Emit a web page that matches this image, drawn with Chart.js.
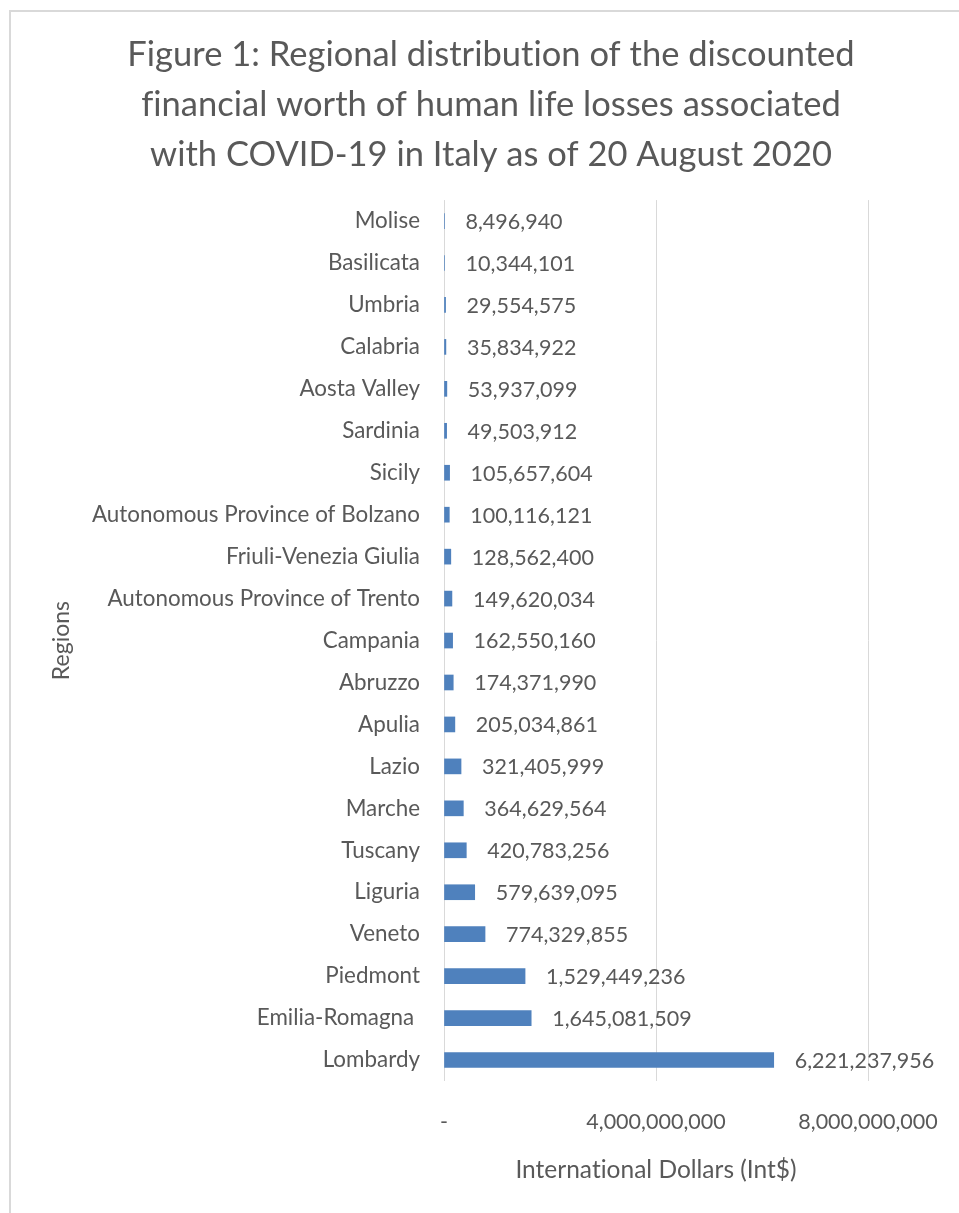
<!DOCTYPE html>
<html>
<head>
<meta charset="utf-8">
<script src="https://cdn.jsdelivr.net/npm/chart.js@4"></script>
<style>
  html, body { margin: 0; padding: 0; background: #ffffff; overflow: hidden; width: 959px; height: 1213px; }
  #frame { position: absolute; left: 9px; top: 10px; width: 2000px; height: 2000px; border-left: 2px solid #d9d9d9; border-top: 2px solid #d9d9d9; }
  #c { position: absolute; left: 0; top: 0; }
</style>
</head>
<body>
<div id="frame"></div>
<canvas id="c" width="959" height="1213"></canvas>
<script>
const titleLines = [
  'Figure 1: Regional distribution of the discounted',
  'financial worth of human life losses associated',
  'with COVID-19 in Italy as of 20 August 2020'
];
const regions = [
  'Molise', 'Basilicata', 'Umbria', 'Calabria', 'Aosta Valley', 'Sardinia', 'Sicily',
  'Autonomous Province of Bolzano', 'Friuli-Venezia Giulia', 'Autonomous Province of Trento',
  'Campania', 'Abruzzo', 'Apulia', 'Lazio', 'Marche', 'Tuscany', 'Liguria', 'Veneto',
  'Piedmont', 'Emilia-Romagna ', 'Lombardy'
];
const worth = [
  8496940, 10344101, 29554575, 35834922, 53937099, 49503912, 105657604,
  100116121, 128562400, 149620034, 162550160, 174371990, 205034861, 321405999,
  364629564, 420783256, 579639095, 774329855, 1529449236, 1645081509, 6221237956
];
const xTickValues = [0, 4000000000, 8000000000];
const xAxisTitle = 'International Dollars (Int$)';
const yAxisTitle = 'Regions';

const FONT = 'Lato, "Open Sans", sans-serif';
const TEXT = '#595959';
const fmt = v => v.toLocaleString('en-US');

const noLigatures = {
  id: 'noLigatures',
  beforeDraw(chart) {
    const ctx = chart.ctx;
    try { ctx.textRendering = 'optimizeSpeed'; } catch (e) {}
    try { ctx.letterSpacing = '0.01px'; } catch (e) {}
  }
};

// shift the chart title block so it is centred like the reference
const titleShift = {
  id: 'titleShift',
  afterLayout(chart) {
    const t = chart.titleBlock;
    if (t) { t.left += 74; }
  }
};

const valueLabels = {
  id: 'valueLabels',
  afterDatasetsDraw(chart) {
    const ctx = chart.ctx;
    const meta = chart.getDatasetMeta(0);
    ctx.save();
    ctx.font = '21.5px ' + FONT;
    ctx.fillStyle = TEXT;
    ctx.textAlign = 'left';
    ctx.textBaseline = 'middle';
    meta.data.forEach((bar, i) => {
      ctx.fillText(fmt(chart.data.datasets[0].data[i]), bar.x + 21, bar.y + 1);
    });
    ctx.restore();
  }
};

new Chart(document.getElementById('c'), {
  type: 'bar',
  data: {
    labels: regions,
    datasets: [{
      data: worth,
      backgroundColor: '#4F81BD',
      borderWidth: 0,
      barThickness: 15
    }]
  },
  plugins: [noLigatures, titleShift, valueLabels],
  options: {
    indexAxis: 'y',
    responsive: false,
    animation: false,
    layout: { padding: { top: 20, left: 40, right: 91, bottom: 26 } },
    plugins: {
      legend: { display: false },
      tooltip: { enabled: false },
      title: {
        display: true,
        text: titleLines,
        color: TEXT,
        font: { family: FONT, size: 34.5, weight: 'normal', lineHeight: 1.45 },
        padding: { top: 10, bottom: 20 }
      }
    },
    scales: {
      x: {
        type: 'linear',
        min: 0,
        max: 8000000000,
        afterFit(scale) { scale.height = 106; },
        afterBuildTicks(scale) { scale.ticks = xTickValues.map(v => ({ value: v })); },
        ticks: {
          color: TEXT,
          font: { family: FONT, size: 21.5 },
          padding: 0,
          maxRotation: 0,
          callback: v => v === 0 ? '-' : fmt(v)
        },
        grid: { color: '#d9d9d9', lineWidth: 1, drawTicks: true, tickLength: 28, tickColor: 'rgba(0,0,0,0)' },
        border: { display: false },
        title: {
          display: true,
          text: xAxisTitle,
          color: TEXT,
          font: { family: FONT, size: 24.5 },
          padding: { top: 4, bottom: 2 }
        }
      },
      y: {
        afterFit(scale) { scale.width = 404; },
        ticks: {
          color: TEXT,
          font: { family: FONT, size: 22.4 },
          padding: 24,
          autoSkip: false
        },
        grid: { display: false, drawTicks: false },
        border: { display: false },
        title: {
          display: true,
          text: yAxisTitle,
          color: TEXT,
          font: { family: FONT, size: 23 },
          padding: { top: 8, bottom: 0 }
        }
      }
    }
  }
});
</script>
</body>
</html>
